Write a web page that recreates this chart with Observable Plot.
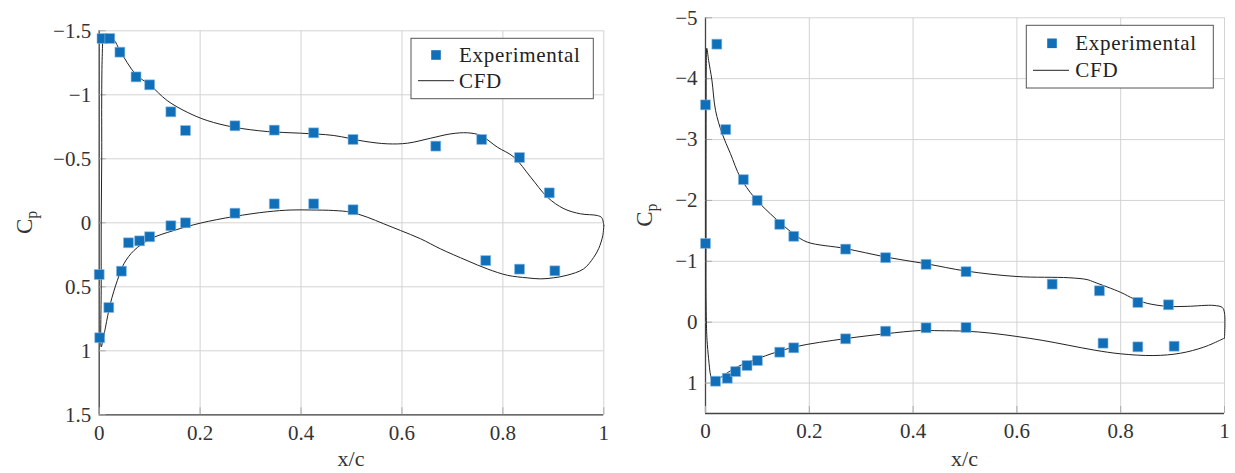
<!DOCTYPE html>
<html><head><meta charset="utf-8">
<script src="https://cdn.jsdelivr.net/npm/d3@7"></script>
<script src="https://cdn.jsdelivr.net/npm/@observablehq/plot@0.6"></script>
<style>
body{margin:0;background:#fff;}
#wrap{display:flex;width:1235px;height:473px;}
</style></head><body><div id="wrap"></div>
<script>
// ---------- tick values & domains ----------
const xTicks = [0, 0.2, 0.4, 0.6, 0.8, 1];
const yTicksL = [-1.5, -1, -0.5, 0, 0.5, 1, 1.5];
const yTicksR = [-5, -4, -3, -2, -1, 0, 1];
const xDomain = [0, 1];
const yDomainL = [-1.5, 1.5];
const yDomainR = [-5, 1.5];
const seriesNames = ["Experimental", "CFD"];
const xLabel = "x/c";
const yLabelMain = "C";
const yLabelSub = "p";

// ---------- left panel: experimental ----------
const expUpperX_L = [0.0055, 0.021, 0.041, 0.073, 0.100, 0.142, 0.171, 0.269, 0.347, 0.425, 0.503, 0.667, 0.758, 0.833, 0.892];
const expUpperCp_L = [-1.44, -1.44, -1.333, -1.14, -1.078, -0.867, -0.721, -0.758, -0.724, -0.703, -0.651, -0.599, -0.651, -0.510, -0.234];
const expLowerX_L = [0.0, 0.001, 0.019, 0.044, 0.058, 0.080, 0.100, 0.142, 0.171, 0.269, 0.347, 0.425, 0.503, 0.766, 0.833, 0.903];
const expLowerCp_L = [0.404, 0.898, 0.662, 0.378, 0.156, 0.141, 0.109, 0.023, 0.0, -0.075, -0.148, -0.148, -0.102, 0.295, 0.362, 0.375];

// ---------- left panel: CFD (closed loop: lower TE->LE, upper LE->TE) ----------
const cfdX_L = [1.0, 0.998, 0.99, 0.98, 0.96, 0.927, 0.9, 0.875, 0.848, 0.809, 0.769, 0.729, 0.676, 0.637, 0.597, 0.564, 0.531, 0.498, 0.465, 0.42, 0.38, 0.333, 0.267, 0.2, 0.148, 0.102, 0.069, 0.049, 0.036, 0.022, 0.0125, 0.006, 0.004, 0.004, 0.004, 0.005, 0.005, 0.006, 0.008, 0.011, 0.016, 0.029, 0.041, 0.0726, 0.1003, 0.1347, 0.1743, 0.214, 0.2668, 0.3329, 0.399, 0.465, 0.525, 0.571, 0.611, 0.657, 0.697, 0.730, 0.756, 0.789, 0.822, 0.855, 0.888, 0.921, 0.954, 0.987, 0.996, 1.0];
const cfdCp_L = [0.02, 0.10, 0.2, 0.27, 0.36, 0.41, 0.43, 0.438, 0.43, 0.41, 0.36, 0.295, 0.203, 0.125, 0.06, 0.008, -0.044, -0.083, -0.096, -0.10, -0.10, -0.086, -0.049, 0.003, 0.06, 0.125, 0.216, 0.32, 0.45, 0.633, 0.815, 0.945, 0.97, 0.5, 0.0, -0.5, -1.0, -1.3, -1.44, -1.465, -1.46, -1.43, -1.346, -1.159, -1.078, -0.955, -0.864, -0.799, -0.747, -0.713, -0.700, -0.682, -0.637, -0.617, -0.622, -0.661, -0.695, -0.703, -0.682, -0.591, -0.513, -0.357, -0.201, -0.110, -0.070, -0.057, -0.04, 0.02];

// ---------- right panel: experimental ----------
const expUpperX_R = [0.0, 0.0218, 0.039, 0.073, 0.0996, 0.143, 0.170, 0.270, 0.347, 0.425, 0.502, 0.668, 0.759, 0.833, 0.892];
const expUpperCp_R = [-3.57, -4.567, -3.164, -2.342, -2.0, -1.607, -1.41, -1.20, -1.06, -0.95, -0.83, -0.625, -0.516, -0.324, -0.286];
const expLowerX_R = [0.0, 0.0193, 0.042, 0.058, 0.080, 0.100, 0.143, 0.170, 0.270, 0.347, 0.425, 0.502, 0.766, 0.833, 0.903];
const expLowerCp_R = [-1.294, 0.970, 0.921, 0.811, 0.712, 0.63, 0.493, 0.421, 0.273, 0.148, 0.092, 0.087, 0.345, 0.405, 0.395];

// ---------- right panel: CFD ----------
const cfdX_R = [1.0, 0.993, 0.96, 0.915, 0.864, 0.8, 0.75, 0.7, 0.65, 0.6, 0.55, 0.502, 0.45, 0.414, 0.347, 0.27, 0.17, 0.1, 0.06, 0.03, 0.02, 0.014, 0.01, 0.006, 0.003, 0.002, 0.001, 0.001, 0.001, 0.0012, 0.0015, 0.0025, 0.006, 0.0123, 0.0193, 0.032, 0.048, 0.067, 0.093, 0.125, 0.17, 0.196, 0.27, 0.347, 0.425, 0.502, 0.6, 0.7, 0.735, 0.749, 0.8, 0.825, 0.851, 0.89, 0.928, 0.98, 0.996, 1.0, 1.0];
const cfdCp_R = [0.26, 0.29, 0.41, 0.51, 0.548, 0.52, 0.46, 0.38, 0.30, 0.235, 0.18, 0.148, 0.14, 0.137, 0.19, 0.27, 0.41, 0.60, 0.74, 0.905, 0.975, 0.97, 0.88, 0.6, 0.3, 0.1, -0.5, -1.5, -2.5, -3.5, -4.2, -4.5, -4.3, -3.98, -3.48, -3.10, -2.77, -2.38, -2.06, -1.78, -1.45, -1.316, -1.21, -1.07, -0.96, -0.84, -0.75, -0.73, -0.70, -0.658, -0.49, -0.385, -0.31, -0.26, -0.26, -0.275, -0.24, -0.15, 0.26];

// ---------- helpers ----------
const fmt = d => d < 0 ? "\u2212" + Math.abs(d) : String(d);
const zip = (xs, ys) => xs.map((x, i) => ({x, cp: ys[i]}));
const BLUE = "#0f6fb8";
const FONT = "Liberation Serif";

function panel(o) {
  const exp = zip(o.expUX, o.expUC).concat(zip(o.expLX, o.expLC));
  const cfd = zip(o.cfdX, o.cfdC);
  const svg = Plot.plot({
    width: o.width, height: 473,
    marginLeft: o.ml, marginRight: o.mr, marginTop: o.mt, marginBottom: o.mb,
    style: {color: "#333", background: "#fff", overflow: "visible"},
    x: {domain: xDomain, ticks: xTicks},
    y: {domain: o.yDomain, reverse: true, ticks: o.yTicks},
    marks: [
      Plot.gridX(xTicks, {stroke: "#d3d3d3", strokeOpacity: 1, strokeWidth: 1}),
      Plot.gridY(o.yTicks, {stroke: "#d3d3d3", strokeOpacity: 1, strokeWidth: 1}),
      Plot.ruleX([xDomain[0]], {stroke: "#444", strokeWidth: 1.3}),
      Plot.ruleY([o.yDomain[1]], {stroke: "#444", strokeWidth: 1.3}),
      Plot.axisX(xTicks, {tickSize: -7, tickPadding: 17, stroke: "#aaa", fill: "#333", tickFormat: fmt, label: null, fontSize: 21, fontFamily: FONT}),
      Plot.axisY(o.yTicks, {tickSize: -7, tickPadding: 15, stroke: "#aaa", fill: "#333", tickFormat: fmt, label: null, fontSize: 21, fontFamily: FONT}),
      Plot.line(cfd, {x: "x", y: "cp", stroke: "#222", strokeWidth: 1, curve: "catmull-rom"}),
      Plot.dot(exp, {x: "x", y: "cp", symbol: "square", r: 5.6, fill: BLUE, stroke: "#8dbbe3", strokeWidth: 0.6})
    ]
  });
  const s = d3.select(svg);
  const fx0 = o.ml, fx1 = o.width - o.mr, fy0 = o.mt, fy1 = 473 - o.mb;
  // x label
  s.append("text").attr("x", (fx0 + fx1) / 2).attr("y", 466).attr("text-anchor", "middle")
    .attr("fill", "#333").attr("font-size", 22).attr("font-family", FONT).text(xLabel);
  // y label with subscript
  const t = s.append("text").attr("transform", `translate(${o.yLabX},${(fy0 + fy1) / 2}) rotate(-90)`)
    .attr("text-anchor", "middle").attr("fill", "#333").attr("font-size", 23).attr("font-family", FONT);
  t.append("tspan").text(yLabelMain);
  t.append("tspan").attr("dy", 5).attr("font-size", 16).text(yLabelSub);
  // legend
  const L = o.leg;
  const g = s.append("g").attr("text-anchor", "start").attr("font-family", FONT);
  g.append("rect").attr("x", L.x).attr("y", L.y).attr("width", L.w).attr("height", L.h)
    .attr("fill", "#fff").attr("stroke", "#555").attr("stroke-width", 1);
  g.append("rect").attr("x", L.mx - 4.8).attr("y", L.my - 4.8).attr("width", 9.6).attr("height", 9.6).attr("fill", BLUE);
  g.append("text").attr("x", L.tx).attr("y", L.b1).attr("text-anchor", "start").attr("font-family", FONT).attr("font-size", 21).attr("letter-spacing", 0.7).attr("fill", "#222").text(seriesNames[0]);
  g.append("line").attr("x1", L.lx1).attr("x2", L.lx2).attr("y1", L.ly).attr("y2", L.ly).attr("stroke", "#222").attr("stroke-width", 1);
  g.append("text").attr("x", L.tx).attr("y", L.b2).attr("text-anchor", "start").attr("font-family", FONT).attr("font-size", 21).attr("letter-spacing", 0.7).attr("fill", "#222").text(seriesNames[1]);
  return svg;
}

const wrap = document.getElementById("wrap");
wrap.appendChild(panel({
  width: 615, ml: 98.7, mr: 11.7, mt: 30.3, mb: 58.7, yDomain: yDomainL, yTicks: yTicksL,
  expUX: expUpperX_L, expUC: expUpperCp_L, expLX: expLowerX_L, expLC: expLowerCp_L,
  cfdX: cfdX_L, cfdC: cfdCp_L, yLabX: 32,
  leg: {x: 411, y: 38.3, w: 182.3, h: 60.4, mx: 436, my: 55, tx: 459, b1: 61.5, b2: 87.5, lx1: 418, lx2: 454, ly: 80.7}
}));
wrap.appendChild(panel({
  width: 620, ml: 90, mr: 11, mt: 17.3, mb: 60, yDomain: yDomainR, yTicks: yTicksR,
  expUX: expUpperX_R, expUC: expUpperCp_R, expLX: expLowerX_R, expLC: expLowerCp_R,
  cfdX: cfdX_R, cfdC: cfdCp_R, yLabX: 37,
  leg: {x: 411.3, y: 25.3, w: 187, h: 62.7, mx: 437, my: 43.3, tx: 460.3, b1: 50, b2: 77, lx1: 418, lx2: 454, ly: 70.3}
}));
</script></body></html>
